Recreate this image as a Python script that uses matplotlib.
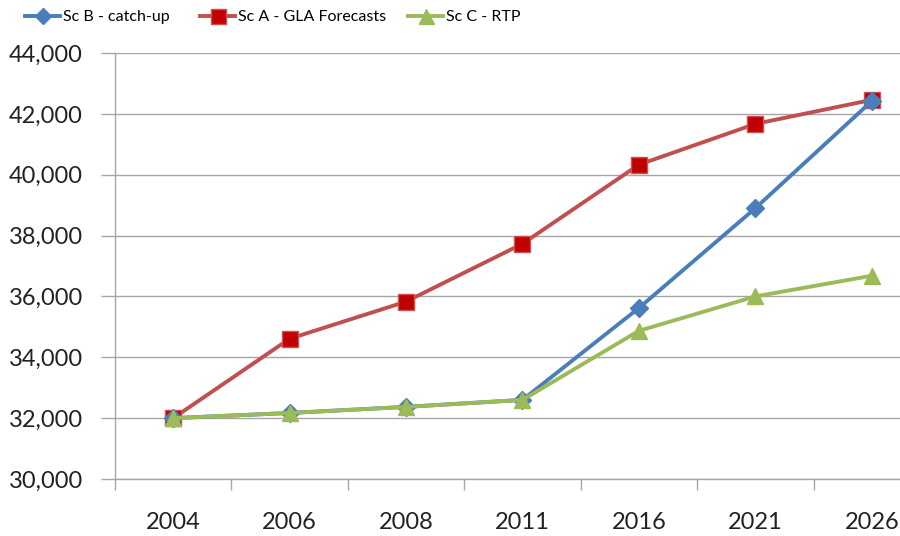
import matplotlib
matplotlib.use("Agg")
import matplotlib.pyplot as plt
from matplotlib.ticker import FuncFormatter, FixedLocator

plt.rcParams['font.family'] = ['Lato', 'DejaVu Sans']

years = ['2004', '2006', '2008', '2011', '2016', '2021', '2026']
sc_b = [32000, 32170, 32370, 32600, 35620, 38900, 42420]
sc_a = [32000, 34610, 35830, 37730, 40330, 41670, 42460]
sc_c = [32000, 32170, 32370, 32600, 34870, 36000, 36680]

grey = '#A6A6A6'

fig = plt.figure(figsize=(9, 5.36), dpi=100)
# plot area runs off the right side of the picture, as in the reference
ax = fig.add_axes([115 / 900, 57 / 536, 815 / 900, 426 / 536])

x = list(range(len(years)))
lb, = ax.plot(x, sc_b, color='#4A7EBB', lw=2.8, marker='D', ms=9,
              mfc='#4A7EBB', mec='#4A7EBB', label='Sc B - catch-up', zorder=3)
la, = ax.plot(x, sc_a, color='#C0504D', lw=2.8, marker='s', ms=12,
              mfc='#C00000', mec='#D05050', label='Sc A - GLA Forecasts', zorder=2)
lc, = ax.plot(x, sc_c, color='#9BBB59', lw=2.8, marker='^', ms=12,
              mfc='#9BBB59', mec='#9BBB59', label='Sc C - RTP', zorder=4)

ax.set_xlim(-0.5, len(years) - 0.5)
ax.set_ylim(30000, 44000)
ax.set_yticks(range(30000, 44001, 2000))
ax.yaxis.set_major_formatter(FuncFormatter(lambda v, p: f'{int(v):,}'))
ax.grid(axis='y', color=grey, lw=1)
ax.set_axisbelow(True)

ax.set_xticks(x)
ax.set_xticklabels(years)
ax.xaxis.set_minor_locator(FixedLocator([i - 0.5 for i in range(len(years) + 1)]))
ax.tick_params(axis='x', which='major', length=0, pad=24, labelsize=17,
               labelcolor='#222222')
ax.tick_params(axis='x', which='minor', length=8, color=grey, width=1)
ax.tick_params(axis='y', length=10, color=grey, width=1, labelsize=17, pad=13,
               labelcolor='#222222')

for s in ['top', 'right']:
    ax.spines[s].set_visible(False)
for s in ['left', 'bottom']:
    ax.spines[s].set_color(grey)
    ax.spines[s].set_linewidth(1)

# one legend box per series, placed where the reference has them
for line, x0 in [(lb, 25), (la, 200), (lc, 408)]:
    fig.legend(handles=[line], loc='center left',
               bbox_to_anchor=(x0 / 900, 1 - 17 / 536), frameon=False,
               fontsize=11.5, handlelength=2.2, handletextpad=0.15,
               borderpad=0, borderaxespad=0, markerscale=0.9)

fig.savefig('out.png', dpi=100)
